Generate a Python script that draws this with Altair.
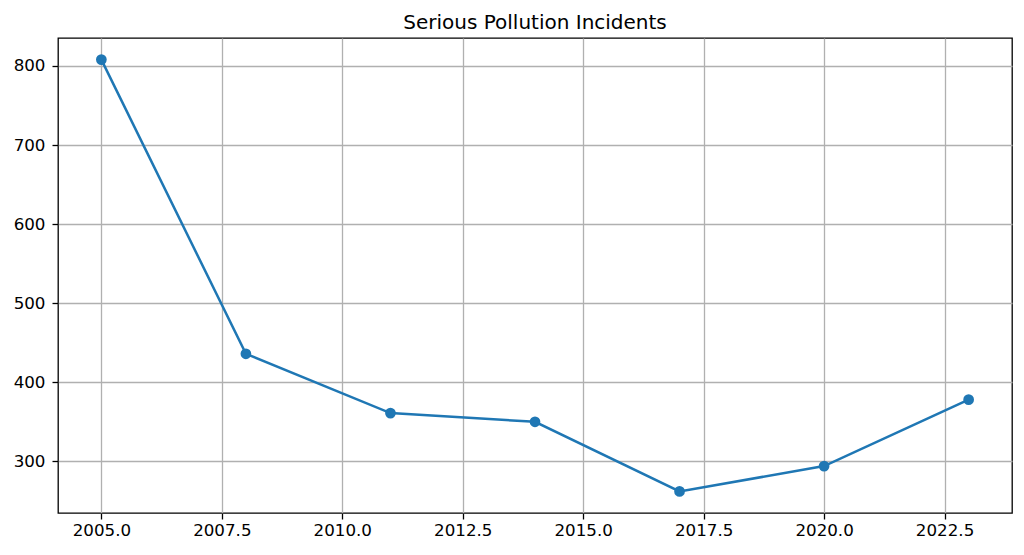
import altair as alt
import pandas as pd

years = [2005, 2008, 2011, 2014, 2017, 2020, 2023]
incidents = [808, 436, 361, 350, 262, 294, 378]
x_ticks = [2005.0, 2007.5, 2010.0, 2012.5, 2015.0, 2017.5, 2020.0, 2022.5]
y_ticks = [300, 400, 500, 600, 700, 800]

df = pd.DataFrame({"year": years, "incidents": incidents})

x = alt.X("year:Q", scale=alt.Scale(domain=[2004.1, 2023.9], nice=False, zero=False),
          axis=alt.Axis(values=x_ticks, format=".1f", title=None, labelPadding=3))
y = alt.Y("incidents:Q", scale=alt.Scale(domain=[234.7, 835.3], nice=False, zero=False),
          axis=alt.Axis(values=y_ticks, format="d", title=None, labelPadding=7))

base = alt.Chart(df).encode(x=x, y=y)
line = base.mark_line(color="#1f77b4", strokeWidth=2.5)
pts = base.mark_circle(color="#1f77b4", size=115, opacity=1)

chart = (line + pts).properties(
    width=954, height=475,
    title=alt.TitleParams("Serious Pollution Incidents", fontSize=20, font="DejaVu Sans",
                          fontWeight="normal", color="black", offset=5),
    autosize=alt.AutoSizeParams(type="none"),
    padding={"left": 50, "top": 30, "right": 4, "bottom": 34},
).configure_view(stroke="black", strokeWidth=1.3).configure_axis(
    grid=True, gridColor="#b0b0b0", gridWidth=1.3, gridOpacity=1,
    domain=False, tickColor="black", tickSize=6, tickWidth=1.3,
    labelFont="DejaVu Sans", labelFontSize=16.7, labelColor="black",
)

chart.save("out.html", embed_options={"renderer": "svg", "actions": False})
